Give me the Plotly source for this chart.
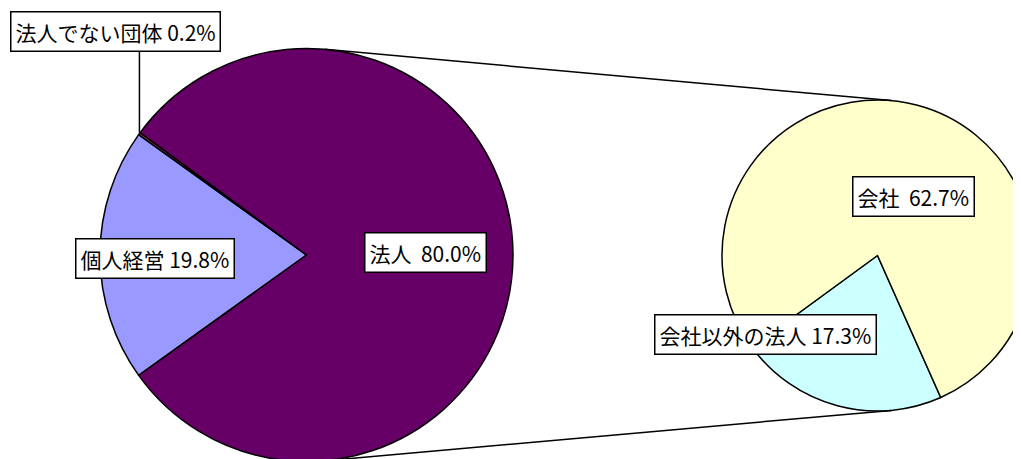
import math
import plotly.graph_objects as go

# ---- data ----
main_labels = ["個人経営", "法人でない団体", "法人"]
main_values = [19.8, 0.2, 80.0]
main_colors = ["#9999FF", "#993366", "#660066"]

sub_labels = ["会社以外の法人", "会社"]
sub_values = [17.3, 62.7]
sub_colors = ["#CCFFFF", "#FFFFCC"]

W, H = 1040, 472          # figure size (page body adds an 8px margin)
OFF = 8                   # body margin offset
FONT = "Noto Sans CJK JP"

# geometry in screen pixels
c1 = (306.5, 255); r1 = 206.5
c2 = (877.5, 255.5); r2 = 155.5

def px2paper(x, y):
    return (x - OFF) / W, 1 - (y - OFF) / H

def domain(c, r):
    x0, y0 = px2paper(c[0] - r, c[1] + r)
    x1, y1 = px2paper(c[0] + r, c[1] - r)
    return dict(x=[x0, x1], y=[y0, y1])

rot_main = 270 - main_values[0] / sum(main_values) * 360 / 2
rot_sub = 156

fig = go.Figure()
fig.add_trace(go.Pie(labels=main_labels, values=main_values, sort=False,
                     direction="clockwise", rotation=rot_main,
                     marker=dict(colors=main_colors, line=dict(color="black", width=1.5)),
                     textinfo="none", hoverinfo="label+percent", showlegend=False,
                     domain=domain(c1, r1)))
fig.add_trace(go.Pie(labels=sub_labels, values=sub_values, sort=False,
                     direction="clockwise", rotation=rot_sub,
                     marker=dict(colors=sub_colors, line=dict(color="black", width=1.5)),
                     textinfo="none", hoverinfo="label+value", showlegend=False,
                     domain=domain(c2, r2)))

# tangent connector lines between the two pies
d = c2[0] - c1[0]
sa = (r1 - r2) / d
ca = math.sqrt(1 - sa * sa)
shapes = []
for s in (-1, 1):
    p1 = (c1[0] + r1 * sa, c1[1] + s * r1 * ca)
    p2 = (c2[0] + r2 * sa, c2[1] + s * r2 * ca)
    a = px2paper(*p1); b = px2paper(*p2)
    shapes.append(dict(type="line", xref="paper", yref="paper",
                       x0=a[0], y0=a[1], x1=b[0], y1=b[1],
                       line=dict(color="black", width=1.5)))

# leader line for the tiny slice
theta = math.radians(rot_main + (main_values[0] + main_values[1] / 2) / sum(main_values) * 360)
tp = (c1[0] + r1 * math.sin(theta), c1[1] - r1 * math.cos(theta))
a = px2paper(*tp)
b = px2paper(tp[0], 51)
shapes.append(dict(type="line", xref="paper", yref="paper",
                   x0=a[0], y0=a[1], x1=b[0], y1=b[1],
                   line=dict(color="black", width=1.5)))

def lab(text, cx, cy):
    x, y = px2paper(cx, cy)
    return dict(text=text, x=x, y=y, xref="paper", yref="paper",
                xanchor="center", yanchor="middle",
                showarrow=False, bgcolor="white", bordercolor="black",
                borderwidth=1.5, borderpad=4,
                font=dict(family=FONT, size=21, color="black"))

annotations = [
    lab(f"{main_labels[1]} {main_values[1]:.1f}%", 115.5, 32),
    lab(f"{main_labels[0]} {main_values[0]:.1f}%", 155, 258.5),
    lab(f"{main_labels[2]}\u00a0 {main_values[2]:.1f}%", 425, 253),
    lab(f"{sub_labels[1]}\u00a0 {sub_values[1]:.1f}%", 913.5, 197),
    lab(f"{sub_labels[0]} {sub_values[0]:.1f}%", 765, 334.5),
]

fig.update_layout(width=W, height=H, margin=dict(l=0, r=0, t=0, b=0),
                  paper_bgcolor="white", plot_bgcolor="white",
                  shapes=shapes, annotations=annotations,
                  font=dict(family=FONT))
fig.write_html("out.html")
